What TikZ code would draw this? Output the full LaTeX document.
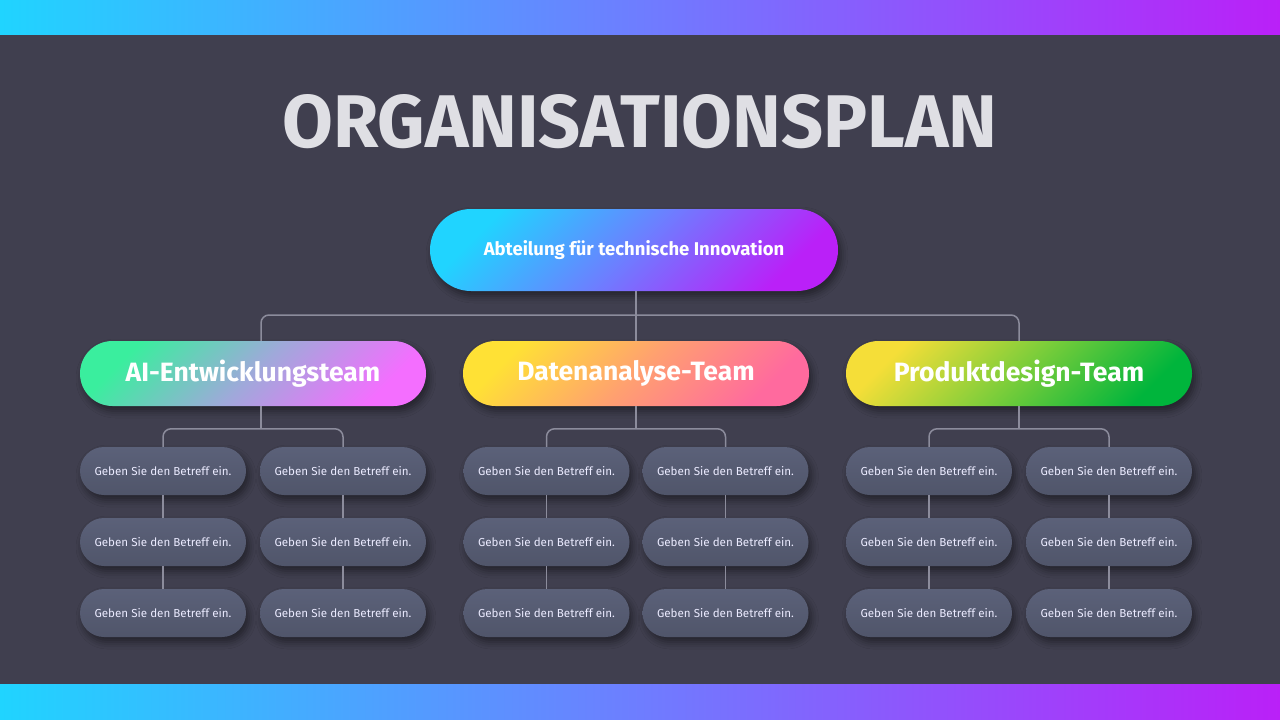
\documentclass[tikz,border=0pt]{standalone}
\usepackage{fontspec}
\setmainfont{Fira Sans}
\usetikzlibrary{shapes.misc,shadows.blur}

\definecolor{bgdark}{HTML}{403F4F}
\definecolor{linkgray}{HTML}{8C8C9C}
\definecolor{titlelight}{HTML}{DFDFE4}
\definecolor{barA}{HTML}{20D4FF}
\definecolor{barB}{HTML}{6E7DFF}
\definecolor{barC}{HTML}{BA20F8}
\definecolor{aiA}{HTML}{3AEE9E}
\definecolor{aiB}{HTML}{9FA9DA}
\definecolor{aiC}{HTML}{F46EFF}
\definecolor{daA}{HTML}{FFE135}
\definecolor{daB}{HTML}{FFA070}
\definecolor{daC}{HTML}{FF6A9E}
\definecolor{pdA}{HTML}{F5DE38}
\definecolor{pdB}{HTML}{7ACD3A}
\definecolor{pdC}{HTML}{00B53C}
\definecolor{subtop}{HTML}{5B6179}
\definecolor{subbot}{HTML}{50556A}

\pgfdeclarehorizontalshading{barshade}{100bp}{color(0bp)=(barA); color(25bp)=(barA); color(50bp)=(barB); color(75bp)=(barC); color(100bp)=(barC)}
\pgfdeclarehorizontalshading{deptshade}{100bp}{color(0bp)=(barA); color(25bp)=(barA); color(50bp)=(barB); color(75bp)=(barC); color(100bp)=(barC)}
\pgfdeclarehorizontalshading{aishade}{100bp}{color(0bp)=(aiA); color(25bp)=(aiA); color(50bp)=(aiB); color(75bp)=(aiC); color(100bp)=(aiC)}
\pgfdeclarehorizontalshading{dashade}{100bp}{color(0bp)=(daA); color(25bp)=(daA); color(50bp)=(daB); color(75bp)=(daC); color(100bp)=(daC)}
\pgfdeclarehorizontalshading{pdshade}{100bp}{color(0bp)=(pdA); color(25bp)=(pdA); color(50bp)=(pdB); color(75bp)=(pdC); color(100bp)=(pdC)}

\tikzset{
  pill/.style={rounded rectangle, inner sep=0pt, text=white, shading angle=-45,
    blur shadow={shadow xshift=3pt, shadow yshift=-5pt, shadow blur radius=7pt, shadow opacity=45}},
  deptbox/.style={pill, shading=deptshade, minimum width=408pt, minimum height=82pt,
    font=\bfseries\fontsize{18.5}{22}\selectfont},
  teambox/.style={pill, minimum width=346pt, minimum height=65pt,
    font=\bfseries\fontsize{26.5}{30}\selectfont},
  subbox/.style={pill, top color=subtop, bottom color=subbot, shading angle=0,
    minimum width=166pt, minimum height=48pt, text=white!92!blue,
    font=\fontsize{11.6}{14}\selectfont},
  link/.style={draw=linkgray, line width=1.5pt, rounded corners=8pt},
  titletext/.style={inner sep=0pt, text=titlelight, font=\bfseries}
}

\begin{document}
\begin{tikzpicture}[x=1pt,y=-1pt]
\fill[bgdark] (0,0) rectangle (1280,720);
\shade[shading=barshade] (0,0) rectangle (1280,34);
\shade[shading=barshade] (0,684) rectangle (1280,720);

% title
\node[titletext] (title) at (640,122) {\resizebox{715pt}{53pt}{ORGANISATIONSPLAN}};

% top level
\node[deptbox] (dept) at (634,250) {Abteilung für technische Innovation};

% teams
\node[teambox, shading=aishade] (ai) at (253,373.5) {AI-Entwicklungsteam};
\node[teambox, shading=dashade] (da) at (636,373.5) {Datenanalyse-Team};
\node[teambox, shading=pdshade] (pd) at (1019,373.5) {Produktdesign-Team};

% sub boxes
\foreach \t/\xl/\xr in {ai/163/343, da/546.5/725.5, pd/929/1109}
  \foreach \r/\y in {1/471, 2/542, 3/613} {
    \node[subbox] (\t l\r) at (\xl,\y) {Geben Sie den Betreff ein.};
    \node[subbox] (\t r\r) at (\xr,\y) {Geben Sie den Betreff ein.};
  }

% connectors
\coordinate (bus) at (636,315);
\draw[link] ([xshift=8pt]ai.north) |- (bus) -| (pd.north);
\draw[link] (dept.south -| bus) -- (da.north);

\foreach \t/\o in {ai/8,da/0,pd/0} {
  \coordinate (\t bar) at ([yshift=18pt]\t l1.north);
  \draw[link] ([xshift=\o pt]\t.south) -- ([xshift=\o pt]\t.south |- \t bar);
  \draw[link] (\t l1.north) -- (\t bar) -| (\t r1.north);
  \draw[link] (\t l1.south) -- (\t l2.north);
  \draw[link] (\t l2.south) -- (\t l3.north);
  \draw[link] (\t r1.south) -- (\t r2.north);
  \draw[link] (\t r2.south) -- (\t r3.north);
}
\end{tikzpicture}
\end{document}
